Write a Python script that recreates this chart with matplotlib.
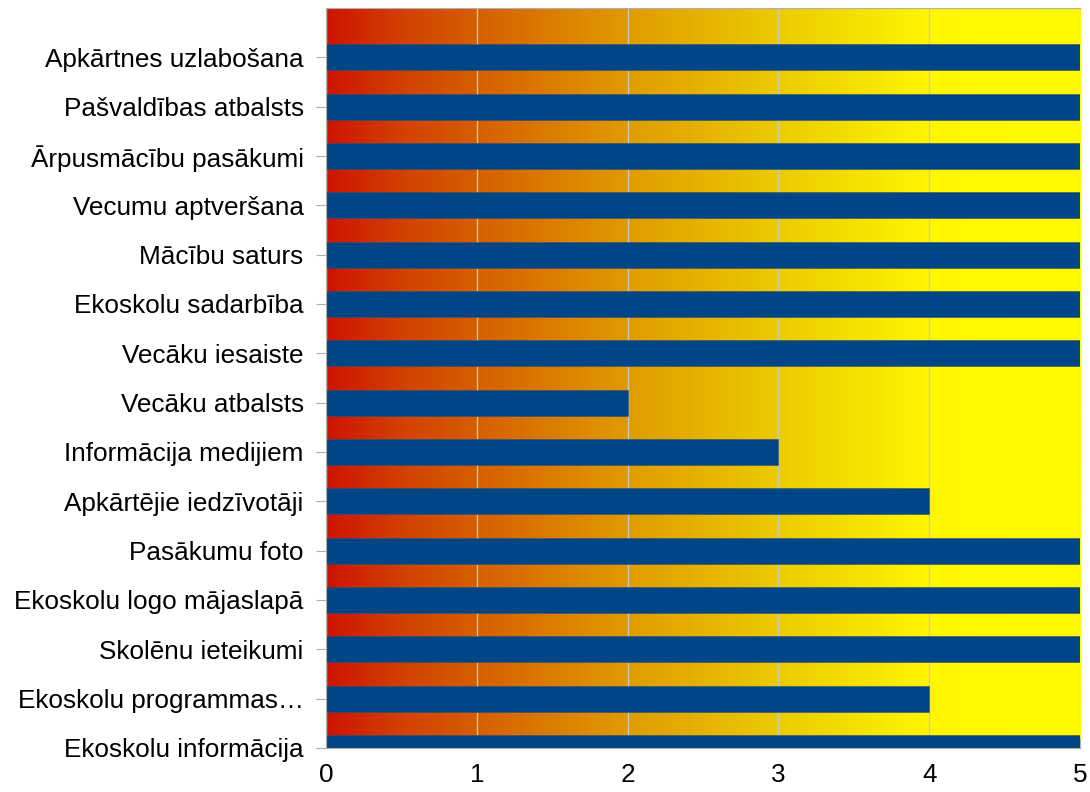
import matplotlib.pyplot as plt
import numpy as np
from matplotlib.colors import LinearSegmentedColormap

plt.rcParams['font.family'] = ['Liberation Sans', 'DejaVu Sans']

# categories listed from bottom to top
categories = ['Ekoskolu informācija', 'Ekoskolu programmas…', 'Skolēnu ieteikumi',
              'Ekoskolu logo mājaslapā', 'Pasākumu foto', 'Apkārtējie iedzīvotāji',
              'Informācija medijiem', 'Vecāku atbalsts', 'Vecāku iesaiste',
              'Ekoskolu sadarbība', 'Mācību saturs', 'Vecumu aptveršana',
              'Ārpusmācību pasākumi', 'Pašvaldības atbalsts', 'Apkārtnes uzlabošana']
values = [5, 4, 5, 5, 5, 4, 3, 2, 5, 5, 5, 5, 5, 5, 5]
xticks = [0, 1, 2, 3, 4, 5]

fig = plt.figure(figsize=(10.9, 7.92), dpi=100)
ax = fig.add_axes([0.299, 0.0556, 0.692, 0.9343])

# red -> yellow background
stops = [(0.0, (205/255, 20/255, 0)), (0.1, (210/255, 65/255, 0)),
         (0.2, (214/255, 95/255, 0)), (0.4, (224/255, 155/255, 0)),
         (0.6, (236/255, 203/255, 0)), (0.72, (245/255, 228/255, 0)),
         (0.8, (255/255, 246/255, 0)), (1.0, (255/255, 250/255, 0))]
cmap = LinearSegmentedColormap.from_list('bg', stops)
grad = np.linspace(0, 1, 512).reshape(1, -1)
ax.imshow(grad, cmap=cmap, extent=[0, 5, 0, 15], aspect='auto', zorder=0)

ax.set_axisbelow(True)
ax.grid(axis='x', color='#c8c8c8', linewidth=1, zorder=1)

y = np.arange(len(categories))
ax.barh(y, values, height=0.53, color='#004687', edgecolor='#3a4f66', linewidth=0.4, zorder=2)

ax.set_xlim(0, 5)
ax.set_ylim(0, 15)
ax.set_xticks(xticks)
ax.set_yticks(y)
ax.set_yticklabels(categories, fontsize=18.8)
ax.set_xticklabels([str(t) for t in xticks], fontsize=18.8)

ax.tick_params(axis='y', length=7, color='#b0b0b0', pad=9)
ax.tick_params(axis='x', direction='in', length=7, color='#b0b0b0', pad=11)

for s in ['left', 'bottom', 'top']:
    ax.spines[s].set_color('#b0b0b0')
ax.spines['right'].set_visible(False)

fig.savefig('out.png', dpi=100)
